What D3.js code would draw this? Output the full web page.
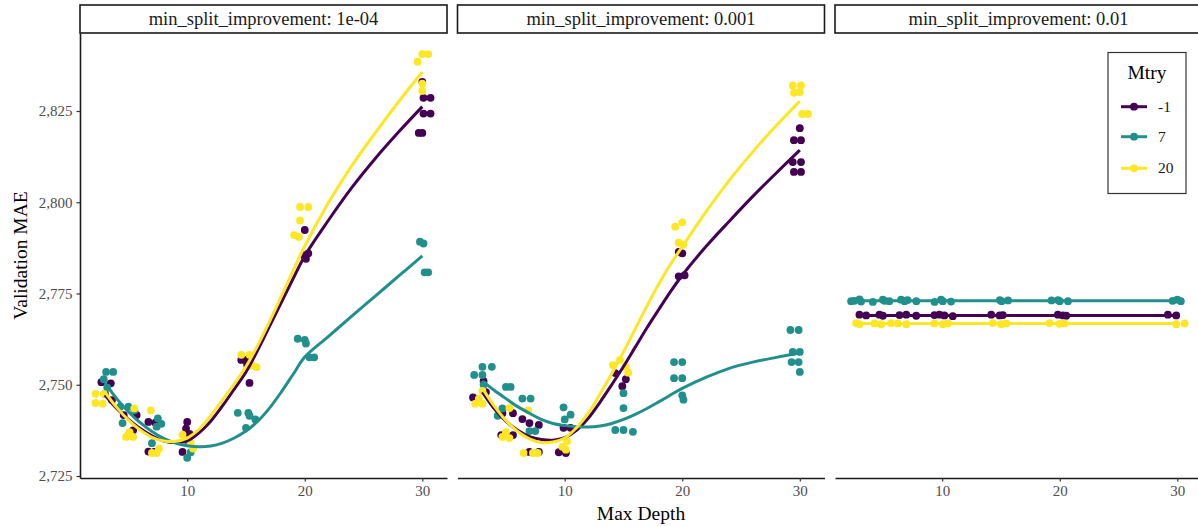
<!DOCTYPE html>
<html><head><meta charset="utf-8">
<script src="https://cdn.jsdelivr.net/npm/d3@7"></script>
<style>body{margin:0;background:#fff}svg{display:block}</style>
</head><body>
<svg id="chart" width="1198" height="527"></svg>
<script>
// ---------- DATA ----------
const panels = ["1e-04", "0.001", "0.01"];
const mtry = ["-1", "7", "20"];
const colors = ["#440154", "#21908C", "#FDE725"];
const xTicks = [10, 20, 30];
const yTicks = [2725, 2750, 2775, 2800, 2825];

// points: [jittered max depth, validation MAE]
const pts_p1_m1 = [[2.7,2750.7],[3.5,2750.4],[3.6,2745.8],[3.0,2747.5],
  [4.6,2741.7],[5.7,2741.7],[5.1,2736.8],[5.4,2737.5],
  [6.7,2739.8],[6.7,2731.7],[7.2,2731.6],[7.3,2739.6],
  [10.0,2739.8],[9.9,2738],[9.6,2731.6],[10.2,2736.5],
  [14.6,2756.8],[15.0,2756.8],[15.3,2750.5],[15.1,2755.5],
  [20.0,2792.4],[19.9,2785.5],[20.1,2784.5],[20.3,2786],
  [30.0,2833],[30.1,2828.6],[30.7,2828.6],[30.1,2824.3],[30.7,2824.3],[29.7,2819],[30.0,2819]];
const pts_p1_7 = [[3.1,2753.5],[3.7,2753.5],[2.9,2751.5],[3.2,2749.2],
  [4.3,2744],[5.0,2744],[4.5,2739.5],[5.5,2743],
  [7.5,2740.8],[7.8,2739.3],[7.0,2734],[7.4,2738.5],
  [10.0,2730],[10.1,2734.3],[10.3,2731.5],
  [14.3,2742.3],[15.2,2742.3],[15.8,2740.5],[15.0,2738.2],[15.3,2741.5],
  [19.4,2762.6],[20.0,2762.3],[20.1,2761.3],[20.4,2757.5],[20.8,2757.5],
  [29.8,2789.2],[30.1,2788.7],[30.2,2780.8],[30.5,2780.8]];
const pts_p1_20 = [[2.2,2747.5],[2.9,2747.5],[2.2,2745],[2.8,2744.8],
  [5.5,2743.5],[4.8,2735.7],[5.4,2735.7],[5.1,2737],
  [6.9,2743],[7.0,2731.3],[7.4,2731.3],[7.6,2732.5],
  [9.6,2736.3],[10.5,2732.5],[10.3,2734],
  [14.6,2758.2],[15.3,2758.2],[15.5,2755.3],[15.9,2754.8],
  [19.6,2798.7],[20.3,2798.7],[19.6,2795],[19.1,2791],[19.5,2790.5],
  [29.6,2838.5],[30.0,2840.6],[30.5,2840.6],[30.0,2832.5],[30.0,2830.5]];

const pts_p2_m1 = [[3.1,2751],[2.2,2746.5],[2.6,2746],[3.3,2748],
  [4.7,2742.2],[5.6,2742.2],[4.6,2736.2],[5.6,2736.2],
  [6.4,2740.6],[7.0,2739.5],[7.8,2739],[7.0,2731.6],[7.8,2731.6],
  [9.9,2738.2],[10.5,2738.2],[9.5,2731.5],[10.1,2731.3],
  [14.3,2753.2],[14.9,2749.6],[15.2,2751.5],
  [19.7,2786.4],[20.0,2786.0],[19.7,2779.7],[20.2,2780],
  [30.0,2820.3],[29.5,2817],[30.1,2817],[29.4,2811],[30.1,2811],[29.5,2808.3],[30.1,2808.3]];
const pts_p2_7 = [[3.0,2754.9],[3.8,2754.9],[2.3,2752.7],[3.0,2752.7],[3.1,2750],
  [5.0,2749.4],[5.4,2749.4],[4.3,2741.5],[4.7,2743.5],
  [6.4,2746.2],[7.1,2746.2],[7.0,2737.3],[7.5,2737.3],
  [9.9,2743.8],[10.5,2741.8],[10.0,2740.5],
  [15.0,2747.7],[15.0,2743.6],[14.3,2737.6],[15.0,2737.6],[15.8,2737.1],
  [19.3,2756.2],[20.0,2756.2],[19.3,2751.8],[20.0,2751.8],[20.0,2747.1],[20.1,2745.9],
  [29.2,2765],[29.9,2765],[29.4,2759],[30.0,2759],[29.3,2756.2],[29.9,2756.2],[30.0,2753.5]];
const pts_p2_20 = [[3.0,2748.3],[2.4,2744.8],[3.0,2744.8],[2.7,2746.2],
  [5.3,2743.6],[4.7,2735.7],[5.3,2735.4],[5.0,2737],
  [6.9,2743],[6.5,2731.3],[7.3,2731.3],[7.7,2731.3],
  [10.2,2734.5],[10.1,2732.2],[9.8,2733],
  [14.1,2755.4],[14.7,2756.8],[15.2,2754.9],[15.4,2753.3],
  [19.4,2793.3],[20.0,2794.5],[19.7,2788.9],[20.1,2788.4],
  [29.4,2832],[30.1,2832],[29.5,2830],[30.0,2830.2],[30.2,2824.2],[30.7,2824.2]];

const pts_p3_m1 = [[2.96,2769.2],[3.53,2769.0],[4.66,2769.2],[4.95,2768.9],[6.37,2769.1],[6.94,2769.2],[7.79,2768.9],
  [9.34,2769.1],[9.77,2769.2],[10.19,2769.0],[10.9,2768.8],[14.17,2769.2],[14.88,2769.0],[15.16,2769.1],
  [19.84,2769.2],[20.27,2769.0],[20.55,2768.9],[29.2,2769.2],[29.91,2769.0]];
const pts_p3_7 = [[2.25,2772.9],[2.53,2773.0],[2.96,2773.4],[3.1,2772.8],[4.1,2772.7],[4.95,2773.3],[5.1,2773.0],[5.5,2772.9],
  [6.5,2773.3],[6.8,2772.9],[7.05,2773.2],[7.8,2772.9],[9.35,2772.7],[9.9,2773.3],[10.05,2772.9],[10.75,2772.8],
  [14.9,2773.2],[15.05,2772.9],[15.6,2773.1],[19.3,2773.1],[19.85,2773.2],[20.0,2772.9],[20.7,2772.9],
  [29.6,2773.0],[30.0,2773.3],[30.3,2772.9]];
const pts_p3_20 = [[2.68,2766.9],[2.96,2766.6],[4.24,2766.8],[4.81,2766.6],[5.66,2766.9],[6.22,2766.8],[6.94,2766.6],
  [9.34,2766.8],[10.05,2766.6],[10.48,2766.8],[14.31,2766.9],[15.02,2766.6],[15.45,2766.8],
  [19.13,2766.9],[19.98,2766.7],[20.41,2766.8],[29.91,2766.6],[30.62,2766.8]];

// smooth (loess) curves
const curveDepths = [3,4,5,6,7,8,9,10,11,12,13,14,15,16,17,18,19,20,22,24,26,28,30];
const fit_p1_m1 = [2747.2,2743.5,2740.5,2738,2736,2734.6,2734.2,2734.6,2736.8,2740,2744.2,2748.8,2753.5,2759.5,2766,2772.5,2779,2785.3,2795,2804,2812,2819.3,2826.2];
const fit_p1_7  = [2750.5,2746.2,2742.6,2739.6,2737.2,2735.3,2734,2733.3,2733,2733.2,2734,2735.4,2737.3,2740,2743.6,2748,2752.8,2757.6,2763.2,2768.8,2774.3,2779.8,2785.3];
const fit_p1_20 = [2748,2743.8,2740.3,2737.6,2735.6,2734.6,2734.5,2735.4,2737.8,2741.5,2745.8,2750.2,2755,2760.8,2767.3,2774.2,2781.2,2788,2799.8,2810,2819,2827.6,2835.7];
const fit_p2_m1 = [2748,2743.5,2740,2737.5,2735.8,2735,2734.8,2735.5,2737.5,2740.8,2745.2,2750,2755,2760.3,2765.6,2770.6,2775.5,2780,2787.8,2794.8,2801.6,2808,2814.3];
const fit_p2_7  = [2751,2748.5,2746.2,2744,2742.2,2740.5,2739.4,2738.8,2738.5,2738.4,2738.7,2739.4,2740.5,2741.9,2743.5,2745.3,2747.2,2749,2752,2754.5,2756.2,2757.5,2758.7];
const fit_p2_20 = [2749,2744.2,2740.2,2737.2,2735.2,2734.2,2734.3,2735.4,2738.2,2742.2,2747.4,2753,2759,2765.3,2771.6,2777.6,2783,2787.8,2797.3,2806,2813.8,2821,2827.7];
const flatDepths = [3,30];
const fit_p3_m1 = [2769.0,2769.0];
const fit_p3_7  = [2773.0,2773.0];
const fit_p3_20 = [2766.8,2766.8];

const pointsByPanel = [[pts_p1_m1,pts_p1_7,pts_p1_20],[pts_p2_m1,pts_p2_7,pts_p2_20],[pts_p3_m1,pts_p3_7,pts_p3_20]];
const fitsByPanel = [[fit_p1_m1,fit_p1_7,fit_p1_20],[fit_p2_m1,fit_p2_7,fit_p2_20],[fit_p3_m1,fit_p3_7,fit_p3_20]];
const fitDepthsByPanel = [curveDepths, curveDepths, flatDepths];

// ---------- LAYOUT ----------
const FONT = "'Liberation Serif','Times New Roman',serif";
const panelX = [80, 457.5, 835];
const panelW = 367;
const pTop = 33, pBottom = 478;
const R = 3.9, LW = 3;
const svg = d3.select("#chart");

const y = d3.scaleLinear().domain([2724.45, 2846.37]).range([pBottom, pTop]);

panels.forEach((p, i) => {
  const x = d3.scaleLinear().domain([0.88, 32.1]).range([panelX[i], panelX[i] + panelW]);
  const g = svg.append("g");
  const clipId = "clip" + i;
  svg.append("clipPath").attr("id", clipId).append("rect")
    .attr("x", panelX[i]).attr("y", pTop).attr("width", panelW).attr("height", pBottom - pTop);
  const plot = g.append("g").attr("clip-path", `url(#${clipId})`);

  // points
  mtry.forEach((m, k) => {
    plot.append("g").selectAll("circle").data(pointsByPanel[i][k]).join("circle")
      .attr("cx", d => x(d[0])).attr("cy", d => y(d[1])).attr("r", R)
      .attr("fill", colors[k]);
  });
  // smooth lines
  mtry.forEach((m, k) => {
    const depths = fitDepthsByPanel[i];
    const line = d3.line().x((d, j) => x(depths[j])).y(d => y(d)).curve(d3.curveCatmullRom.alpha(0.5));
    plot.append("path").attr("d", line(fitsByPanel[i][k]))
      .attr("fill", "none").attr("stroke", colors[k]).attr("stroke-width", LW)
      .attr("stroke-linecap", "butt");
  });

  // x axis
  const xa = g.append("g").attr("transform", `translate(0,${pBottom})`)
    .call(d3.axisBottom(x).tickValues(xTicks).tickSizeInner(3.5).tickSizeOuter(0).tickPadding(4).tickFormat(d3.format("d")));
  xa.select(".domain").attr("stroke", "#1a1a1a").attr("stroke-width", 1.6);
  xa.selectAll(".tick line").attr("stroke", "#333").attr("stroke-width", 1.2);
  xa.selectAll("text").attr("fill", "#4d4d4d").attr("font-family", FONT).attr("font-size", 15);

  // strip
  g.append("rect").attr("x", panelX[i]).attr("y", 5).attr("width", panelW).attr("height", 28)
    .attr("fill", "#fff").attr("stroke", "#1a1a1a").attr("stroke-width", 1.6);
  g.append("text").attr("x", panelX[i] + panelW / 2).attr("y", 25).attr("text-anchor", "middle")
    .attr("font-family", FONT).attr("font-size", 18.5).attr("fill", "#1a1a1a")
    .text("min_split_improvement: " + p);
});

// y axis (first panel only)
const ya = svg.append("g").attr("transform", `translate(${panelX[0]},0)`)
  .call(d3.axisLeft(y).tickValues(yTicks).tickSizeInner(3.5).tickSizeOuter(0).tickPadding(4).tickFormat(d3.format(",")));
ya.select(".domain").attr("stroke", "#1a1a1a").attr("stroke-width", 1.6);
ya.selectAll(".tick line").attr("stroke", "#333").attr("stroke-width", 1.2);
ya.selectAll("text").attr("fill", "#4d4d4d").attr("font-family", FONT).attr("font-size", 15);

// axis titles
svg.append("text").attr("x", 641).attr("y", 520).attr("text-anchor", "middle")
  .attr("font-family", FONT).attr("font-size", 19.5).attr("fill", "#000").text("Max Depth");
svg.append("text").attr("transform", "translate(27,255.5) rotate(-90)").attr("text-anchor", "middle")
  .attr("font-family", FONT).attr("font-size", 19.5).attr("fill", "#000").text("Validation MAE");

// legend
const lg = svg.append("g");
lg.append("rect").attr("x", 1108).attr("y", 52.5).attr("width", 78).attr("height", 141)
  .attr("fill", "#fff").attr("stroke", "#333").attr("stroke-width", 1.2);
lg.append("text").attr("x", 1147).attr("y", 79).attr("text-anchor", "middle")
  .attr("font-family", FONT).attr("font-size", 19.5).attr("fill", "#000").text("Mtry");
const keyY = [106.7, 136.7, 168.3];
mtry.forEach((m, k) => {
  lg.append("line").attr("x1", 1121).attr("x2", 1147).attr("y1", keyY[k]).attr("y2", keyY[k])
    .attr("stroke", colors[k]).attr("stroke-width", LW);
  lg.append("circle").attr("cx", 1134).attr("cy", keyY[k]).attr("r", R).attr("fill", colors[k]);
  lg.append("text").attr("x", 1158).attr("y", keyY[k] + 5).attr("font-family", FONT).attr("font-size", 15.5)
    .attr("fill", "#1a1a1a").text(m);
});
</script>
</body></html>
